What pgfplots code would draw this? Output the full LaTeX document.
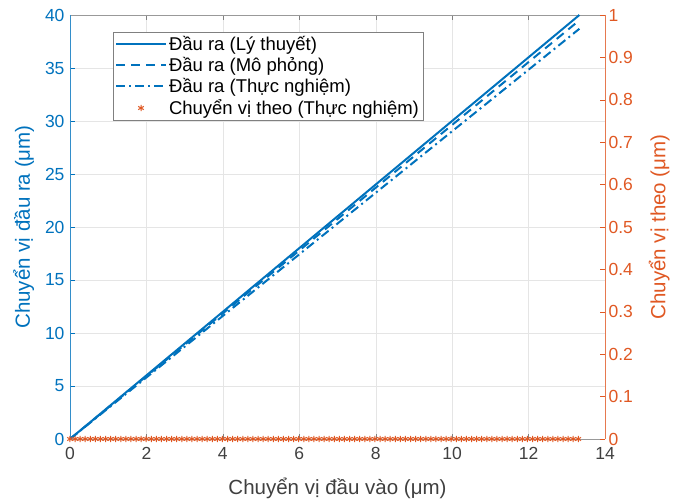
\documentclass[border=0pt]{standalone}
\usepackage{fontspec}
\setmainfont{Liberation Sans}
\usepackage{pgfplots}
\pgfplotsset{compat=1.18}
\definecolor{mblue}{RGB}{0,114,189}
\definecolor{morange}{RGB}{224,88,35}
\definecolor{mgray}{RGB}{64,64,64}
\begin{document}
\begin{tikzpicture}
\path[use as bounding box] (-70pt,-63pt) rectangle (613pt,439pt);
\begin{axis}[
  scale only axis, width=535pt, height=424pt, at={(0pt,0pt)}, anchor=south west,
  xmin=0, xmax=14, ymin=0, ymax=40,
  xtick={0,2,...,14}, ytick={0,5,...,40},
  /pgf/number format/assume math mode=true,
  separate axis lines,
  x axis line style={black!40},
  y axis line style={mblue!80},
  tick align=inside, xtick pos=both, ytick pos=left,
  major tick length=5pt,
  xtick style={black!50}, ytick style={mblue},
  xmajorgrids, ymajorgrids,
  major grid style={black!10},
  tick label style={font=\fontsize{17.5}{20}\selectfont},
  xticklabel style={text=mgray},
  xticklabel shift=5pt,
  yticklabel shift=2pt,
  yticklabel style={text=mblue},
  label style={font=\fontsize{20.5}{23}\selectfont},
  xlabel={Chuyển vị đầu vào (μm)}, xlabel style={text=mgray},
  xlabel shift=11pt,
  ylabel={Chuyển vị đầu ra (μm)}, ylabel style={text=mblue},
  ylabel shift=4pt,
]
\addplot[mblue, line width=2pt] coordinates {(0,0) (13.33,40)};
\addplot[mblue, line width=2pt, dash pattern=on 9pt off 6pt] coordinates {(0,0) (13.33,39.5)};
\addplot[mblue, line width=2pt, dash pattern=on 9pt off 4pt on 2pt off 4pt] coordinates {(0,0) (13.33,38.7)};
\end{axis}
\begin{axis}[
  scale only axis, width=535pt, height=424pt, at={(0pt,0pt)}, anchor=south west,
  xmin=0, xmax=14, ymin=0, ymax=1,
  axis x line=none, axis y line*=right,
  ytick={0,0.1,...,1.01},
  /pgf/number format/assume math mode=true,
  yticklabel style={/pgf/number format/fixed, /pgf/number format/precision=1},
  y axis line style={morange!80},
  tick align=inside, major tick length=5pt,
  ytick style={morange},
  tick label style={font=\fontsize{17.5}{20}\selectfont},
  yticklabel style={text=morange},
  label style={font=\fontsize{20.5}{23}\selectfont},
  ylabel={Chuyển vị theo (μm)}, ylabel style={text=morange},
  ylabel shift=9pt,
  legend style={at={(0.08,0.96)}, anchor=north west, draw=black!50, fill=white,
    font=\fontsize{18.5}{21}\selectfont, row sep=1.5pt, inner sep=2pt},
  legend cell align=left,
  legend image code/.code={\draw[mark repeat=2,mark phase=2,#1] plot coordinates {(0pt,0pt) (25pt,0pt) (50pt,0pt)};},
]
\addlegendimage{mblue, line width=2pt}
\addlegendentry{Đầu ra (Lý thuyết)}
\addlegendimage{mblue, line width=2pt, dash pattern=on 9pt off 6pt}
\addlegendentry{Đầu ra (Mô phỏng)}
\addlegendimage{mblue, line width=2pt, dash pattern=on 9pt off 4pt on 2pt off 4pt}
\addlegendentry{Đầu ra (Thực nghiệm)}
\addplot[morange, only marks, mark=asterisk, mark size=3.2pt, line width=1pt] coordinates {
(0,0) (0.133,0) (0.266,0) (0.399,0) (0.532,0) (0.665,0) (0.798,0) (0.931,0) (1.064,0) (1.197,0)
(1.33,0) (1.463,0) (1.596,0) (1.729,0) (1.862,0) (1.995,0) (2.128,0) (2.261,0) (2.394,0) (2.527,0)
(2.66,0) (2.793,0) (2.926,0) (3.059,0) (3.192,0) (3.325,0) (3.458,0) (3.591,0) (3.724,0) (3.857,0)
(3.99,0) (4.123,0) (4.256,0) (4.389,0) (4.522,0) (4.655,0) (4.788,0) (4.921,0) (5.054,0) (5.187,0)
(5.32,0) (5.453,0) (5.586,0) (5.719,0) (5.852,0) (5.985,0) (6.118,0) (6.251,0) (6.384,0) (6.517,0)
(6.65,0) (6.783,0) (6.916,0) (7.049,0) (7.182,0) (7.315,0) (7.448,0) (7.581,0) (7.714,0) (7.847,0)
(7.98,0) (8.113,0) (8.246,0) (8.379,0) (8.512,0) (8.645,0) (8.778,0) (8.911,0) (9.044,0) (9.177,0)
(9.31,0) (9.443,0) (9.576,0) (9.709,0) (9.842,0) (9.975,0) (10.108,0) (10.241,0) (10.374,0) (10.507,0)
(10.64,0) (10.773,0) (10.906,0) (11.039,0) (11.172,0) (11.305,0) (11.438,0) (11.571,0) (11.704,0) (11.837,0)
(11.97,0) (12.103,0) (12.236,0) (12.369,0) (12.502,0) (12.635,0) (12.768,0) (12.901,0) (13.034,0) (13.167,0)
(13.3,0)};
\addlegendentry{Chuyển vị theo (Thực nghiệm)}
\end{axis}
\end{tikzpicture}
\end{document}
